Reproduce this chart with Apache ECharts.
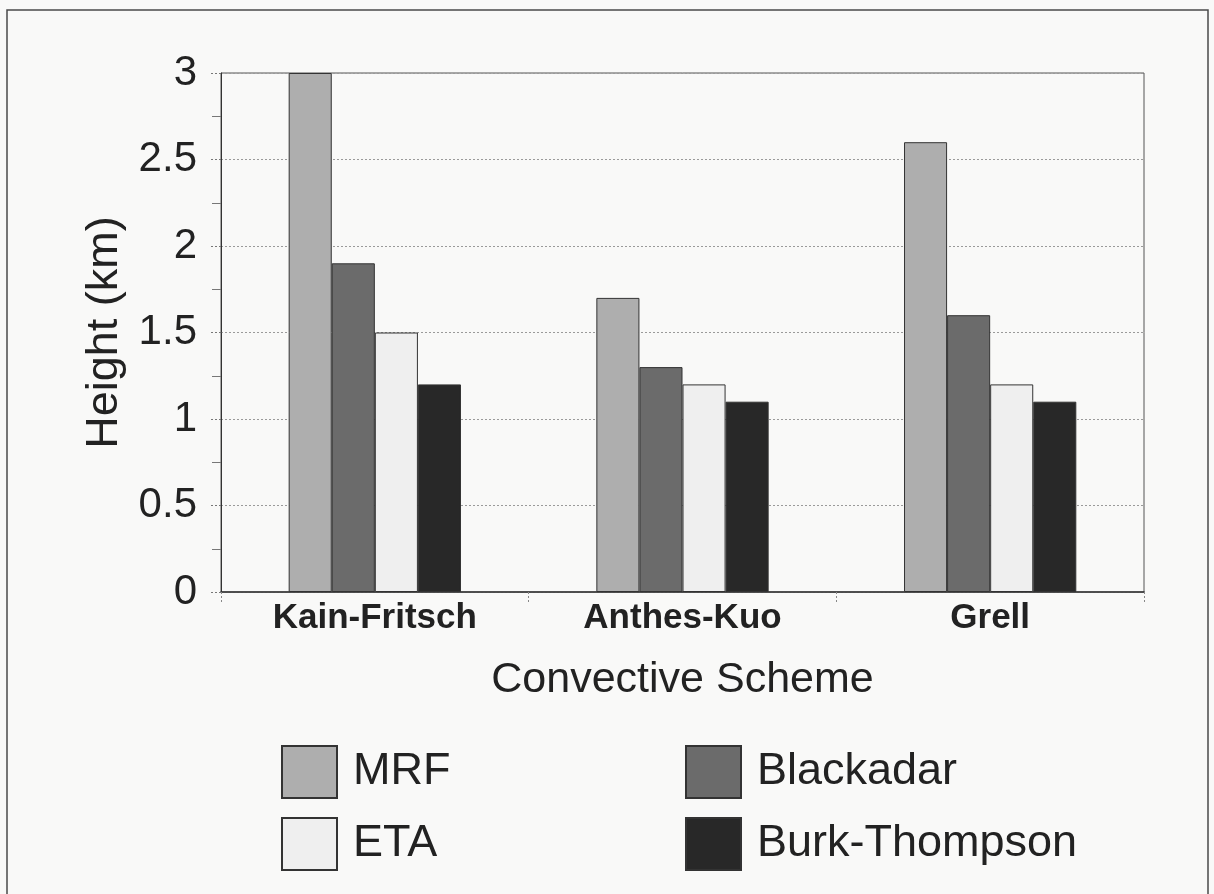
<!DOCTYPE html>
<html>
<head>
<meta charset="utf-8">
<script src="https://cdn.jsdelivr.net/npm/echarts@6/dist/echarts.min.js"></script>
<style>
  html, body { margin: 0; padding: 0; background: #f9f9f8; }
  #chart { width: 1214px; height: 894px; }
</style>
</head>
<body>
<div id="chart"></div>
<script>
// Cloud-top height by convective scheme, one series per PBL scheme
const schemes = ['Kain-Fritsch', 'Anthes-Kuo', 'Grell'];
const mrf = [3.0, 1.7, 2.6];
const blackadar = [1.9, 1.3, 1.6];
const eta = [1.5, 1.2, 1.2];
const burkThompson = [1.2, 1.1, 1.1];
const yTicks = [0, 0.5, 1, 1.5, 2, 2.5, 3];

const seriesDefs = [
  { name: 'MRF', data: mrf, color: '#aeaeae' },
  { name: 'Blackadar', data: blackadar, color: '#6b6b6b' },
  { name: 'ETA', data: eta, color: '#efefef' },
  { name: 'Burk-Thompson', data: burkThompson, color: '#282828' }
];

// Legend columns
const legendLeft = ['MRF', 'ETA'];
const legendRight = ['Blackadar', 'Burk-Thompson'];

const FONT = "'Liberation Sans', Arial, sans-serif";

const chart = echarts.init(document.getElementById('chart'));

const legendBase = {
  orient: 'vertical',
  top: 745,
  padding: 0,
  itemWidth: 55, itemHeight: 52, itemGap: 18,
  icon: 'rect',
  textStyle: {
    fontFamily: FONT, fontSize: 45, color: '#222',
    padding: [0, 0, 0, 11]
  }
};

chart.setOption({
  backgroundColor: '#f9f9f8',
  animation: false,
  graphic: [{
    type: 'rect',
    shape: { x: 7, y: 10, width: 1201, height: 900 },
    style: { fill: 'none', stroke: '#4a4a4a', lineWidth: 1.5 },
    silent: true
  }],
  grid: {
    left: 221, right: 70, top: 73, bottom: 302,
    show: true, borderColor: '#555', borderWidth: 1,
    backgroundColor: 'transparent'
  },
  legend: [
    Object.assign({ data: legendLeft, left: 281 }, legendBase),
    Object.assign({ data: legendRight, left: 685 }, legendBase)
  ],
  xAxis: {
    type: 'category',
    data: schemes,
    name: 'Convective Scheme',
    nameLocation: 'middle',
    nameGap: 67,
    nameTextStyle: { fontFamily: FONT, fontSize: 43, color: '#222' },
    axisLine: { lineStyle: { color: '#333', width: 1.5 } },
    axisTick: { show: true, length: 10, lineStyle: { color: '#888', type: [2, 2] } },
    axisLabel: {
      fontFamily: FONT, fontSize: 35, fontWeight: 'bold', color: '#222', margin: 9
    }
  },
  yAxis: {
    type: 'value',
    min: yTicks[0],
    max: yTicks[yTicks.length - 1],
    interval: 0.5,
    name: 'Height (km)',
    nameLocation: 'middle',
    nameGap: 94,
    nameTextStyle: { fontFamily: FONT, fontSize: 45, color: '#222' },
    axisLine: { show: true, lineStyle: { color: '#333', width: 1 } },
    axisTick: { show: true, length: 12, lineStyle: { color: '#777', type: [2, 2] } },
    minorTick: { show: true, splitNumber: 2, length: 9, lineStyle: { color: '#777' } },
    splitLine: { show: true, lineStyle: { color: '#9a9a9a', type: [2, 2], width: 1 } },
    axisLabel: {
      fontFamily: FONT, fontSize: 42, color: '#222', margin: 24,
      formatter: v => String(v)
    }
  },
  series: seriesDefs.map(s => ({
    name: s.name,
    type: 'bar',
    data: s.data,
    barGap: '0%',
    barCategoryGap: '44%',
    itemStyle: { color: s.color, borderColor: '#333', borderWidth: 1 }
  }))
});
</script>
</body>
</html>
